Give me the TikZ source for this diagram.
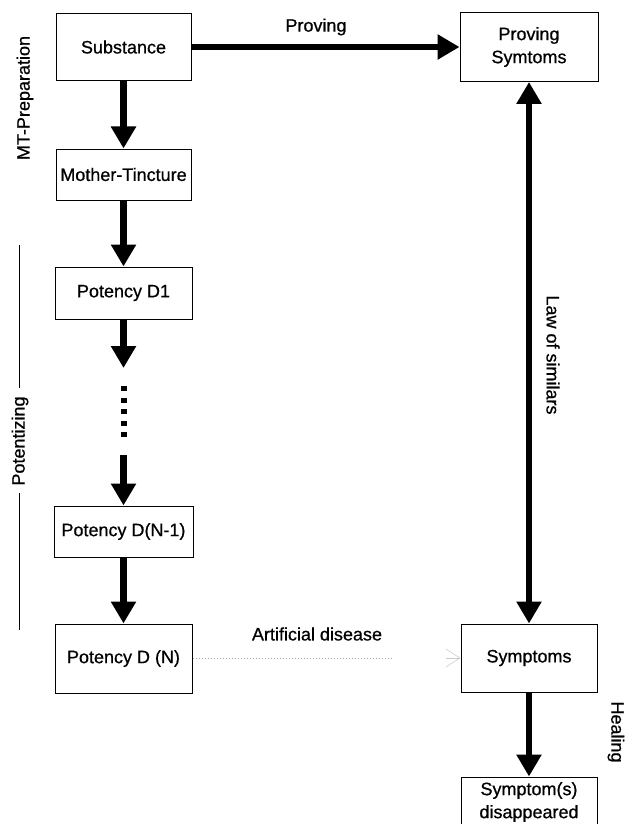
\documentclass[tikz,border=0pt]{standalone}
\usepackage{fontspec}
\setmainfont{Liberation Sans}[FakeBold=0.7]
\usetikzlibrary{arrows.meta,calc}
\begin{document}
\begin{tikzpicture}[x=1pt,y=-1pt,
  box/.style={draw=black, line width=1pt, inner sep=0pt, align=center, font=\fontsize{18}{23}\selectfont},
  lbl/.style={inner sep=0pt, font=\fontsize{18}{23}\selectfont},
  big/.style={line width=6.5pt, -{Triangle[width=24pt,length=22pt]}},
  bigboth/.style={line width=6.5pt, {Triangle[width=24pt,length=22pt]}-{Triangle[width=24pt,length=22pt]}},
  potline/.style={line width=0.8pt, black},
  faintline/.style={gray!70, line width=0.8pt, dash pattern=on 1.5pt off 1.5pt},
  faintbarb/.style={gray!40, line width=0.6pt, -{Straight Barb[length=14pt,width=18pt]}}
]
\useasboundingbox (0,0) rectangle (627,824);
\clip (0,0) rectangle (627,824);

% left column
\node[box, minimum width=135pt, minimum height=67pt] (sub) at (123.5,47) {Substance};
\node[box, minimum width=135pt, minimum height=51pt] (mt) at (123.5,174.5) {Mother-Tincture};
\node[box, minimum width=137pt, minimum height=52pt] (d1) at (123.5,293) {Potency D1};
\node[box, minimum width=139pt, minimum height=51pt] (dn1) at (123.5,531.5) {Potency D(N-1)};
\node[box, minimum width=137pt, minimum height=69pt] (dn) at (123.5,658.5) {Potency D (N)};

% right column
\node[box, minimum width=138pt, minimum height=69pt] (ps) at (529,47) {Proving\\Symtoms};
\node[box, minimum width=136pt, minimum height=68pt] (sym) at (529,658) {Symptoms};
\node[box, minimum width=136pt, minimum height=50pt] (dis) at (529,802) {Symptom(s)\\disappeared};

% helper coordinates
\coordinate (d1end) at (123.5,368);
\coordinate (dnstart) at (123.5,455);
\coordinate (dotA) at (123.5,386);
\coordinate (dotB) at (123.5,440);
\coordinate (fade) at (392,658.5);
\coordinate (pt1) at (19,245);
\coordinate (pt2) at (19,388);
\coordinate (pt3) at (19,493);
\coordinate (pt4) at (19,630);

% connectors
\draw[big] (sub) -- (mt);
\draw[big] (mt) -- (d1);
\draw[big] (d1) -- (d1end);
\draw[line width=6pt, dash pattern=on 5pt off 6.5pt] (dotA) -- (dotB);
\draw[big] (dnstart) -- (dn1);
\draw[big] (dn1) -- (dn);
\draw[big] (sub) -- (ps);
\draw[bigboth] (ps) -- (sym);
\draw[big] (sym) -- (dis);
\draw[faintline] (dn) -- (fade);
\draw[faintbarb] ([xshift=-15pt]sym.west) -- (sym.west);

% labels
\node[lbl] (lprov) at (316,27) {Proving};
\node[lbl] (lart) at (317,634) {Artificial disease};
\node[lbl, rotate=90] (lmt) at (25,98) {MT-Preparation};
\node[lbl, rotate=90] (lpot) at (20,441) {Potentizing};
\node[lbl, rotate=-90] (llaw) at (553,355) {Law of similars};
\node[lbl, rotate=-90] (lheal) at (616,732) {Healing};

% potentizing bracket line
\draw[potline] (pt1) -- (pt2);
\draw[potline] (pt3) -- (pt4);
\end{tikzpicture}
\end{document}
